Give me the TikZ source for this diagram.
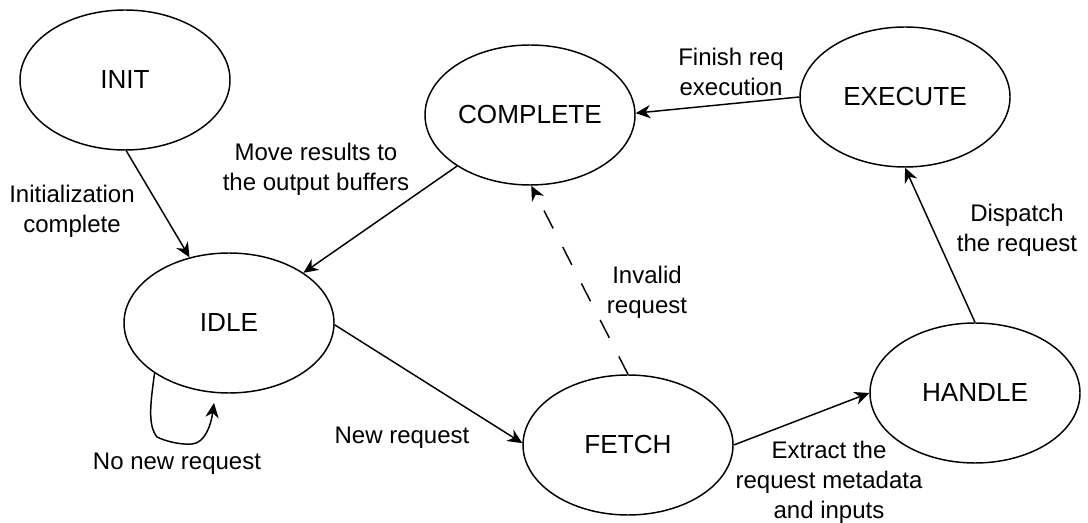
\documentclass[tikz,border=0pt]{standalone}
\usepackage{fontspec}
\setmainfont{Liberation Sans}
\usetikzlibrary{shapes.geometric,arrows.meta}
\begin{document}
\begin{tikzpicture}[x=0.75pt,y=-0.75pt,
  state/.style={ellipse, draw, line width=1.1pt, minimum width=157.5pt,
    minimum height=105pt, inner sep=0pt, font=\fontsize{19.6}{22}\selectfont},
  edge/.style={line width=1.1pt, -{Stealth[length=11pt,width=10pt,inset=3.5pt]}},
  lbl/.style={align=center, inner sep=0pt, font=\fontsize{18}{22.5}\selectfont}]
% canvas
\fill[white] (0,0) rectangle (1088,523);
\useasboundingbox (0,0) rectangle (1088,523);

% states
\node[state] (init)     at (125,80)  {INIT};
\node[state] (complete) at (530,115) {COMPLETE};
\node[state] (execute)  at (905,97)  {EXECUTE};
\node[state] (idle)     at (229,323) {IDLE};
\node[state] (fetch)    at (628,445) {FETCH};
\node[state] (handle)   at (975,393) {HANDLE};

% transitions
\draw[edge] (init.271) -- (idle.121);
\draw[edge] (complete.215) -- (idle.34);
\draw[edge] (execute.180) -- (complete.1);
\draw[edge] (handle.north) -- (execute.south);
\draw[edge] (idle.359) -- (fetch.179);
\draw[edge] (fetch.east) -- (handle.west);
\draw[edge, dash pattern=on 15pt off 15.75pt] (fetch.north) -- (complete.271);

% self loop on IDLE
\coordinate (loopend) at (214,403);
\draw[edge] (idle.214) .. controls (151,400) and (147,425) .. (157,437)
  .. controls (165,441) and (180,445) .. (192,444)
  .. controls (205,443) and (211,425) .. (loopend);

% transition labels
\node[lbl] (l-init)   at (72,211)   {Initialization\\complete};
\node[lbl] (l-move)   at (316,169)  {Move results to\\the output buffers};
\node[lbl] (l-finish) at (731,72)   {Finish req\\execution};
\node[lbl] (l-disp)   at (1017,230) {Dispatch\\the request};
\node[lbl] (l-new)    at (402,438)  {New request};
\node[lbl] (l-extr)   at (829,482)  {Extract the\\request metadata\\and inputs};
\node[lbl] (l-inval)  at (647,292)  {Invalid\\request};
\node[lbl] (l-nonew)  at (177,464)  {No new request};
\end{tikzpicture}
\end{document}
